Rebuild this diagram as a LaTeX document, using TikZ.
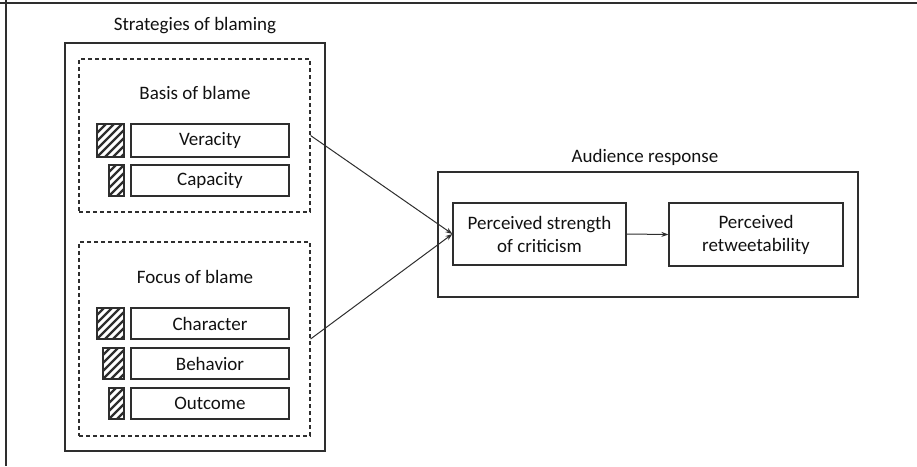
\documentclass[tikz,border=0pt]{standalone}
\usepackage{fontspec}
\setmainfont{Carlito}
\usetikzlibrary{arrows.meta}
\definecolor{ln}{HTML}{2E2E2E}
\definecolor{tx}{HTML}{111111}
\tikzset{
  lbl/.style={font=\fontsize{19}{22}\selectfont, text=tx, inner sep=0pt, align=center},
  grp/.style={draw=ln, line width=1.4pt, inner sep=0pt},
  dgrp/.style={draw=ln, line width=1.1pt, dash pattern=on 4pt off 3pt, inner sep=0pt},
  item/.style={draw=ln, line width=1.2pt, inner sep=0pt, font=\fontsize{19}{22}\selectfont, text=tx, minimum width=158pt},
  itemb/.style={item, line width=2pt},
  var/.style={draw=ln, line width=1.2pt, inner sep=0pt, font=\fontsize{19}{23}\selectfont, text=tx, align=center},
  hatch/.style={draw=ln, line width=1.6pt, inner sep=0pt, minimum height=#1, path picture={
      \foreach \i in {-56,-48,...,56}
        \draw[ln, line width=2.2pt] ([xshift=\i pt]path picture bounding box.south west) -- ++(50pt,50pt);
  }},
  arr/.style={draw=ln, line width=1pt, -{Stealth[length=7pt,width=5pt]}}
}
\begin{document}
\begin{tikzpicture}[x=1pt,y=-1pt]
\useasboundingbox (0,0) rectangle (917,466);
% page frame (top and left edges)
\draw[ln, line width=1.5pt] (0,3) -- (917,3);
\draw[ln, line width=1.5pt] (6,0) -- (6,466);

% Strategies of blaming
\node[grp, minimum width=260pt, minimum height=408pt] (strat) at (195,247) {};
\node[lbl] (strattitle) at (195,26) {Strategies of blaming};

\node[dgrp, minimum width=231pt, minimum height=153pt] (basis) at (194.5,135.5) {};
\node[lbl] (basistitle) at (195,93) {Basis of blame};
\node[itemb, minimum height=33pt] (veracity) at (210,140.5) {Veracity};
\node[hatch=33pt, minimum width=27pt] (hver) at (110.5,140.5) {};
\node[item, minimum height=31pt] (capacity) at (210,180.5) {Capacity};
\node[hatch=31pt, minimum width=15pt] (hcap) at (116.5,180.5) {};

\node[dgrp, minimum width=231pt, minimum height=194pt] (focus) at (194.5,339) {};
\node[lbl] (focustitle) at (195,277) {Focus of blame};
\node[itemb, minimum height=31pt] (character) at (210,323.5) {Character};
\node[hatch=31pt, minimum width=27pt] (hchar) at (110.5,323.5) {};
\node[item, minimum height=31pt] (behavior) at (210,363.5) {Behavior};
\node[hatch=31pt, minimum width=21pt] (hbeh) at (113.5,363.5) {};
\node[item, minimum height=31pt] (outcome) at (210,403.5) {Outcome};
\node[hatch=31pt, minimum width=15pt] (hout) at (116.5,403.5) {};

% Audience response
\node[grp, minimum width=420pt, minimum height=125pt] (aud) at (648,234.5) {};
\node[lbl] (audtitle) at (645,157) {Audience response};
\node[var, minimum width=173pt, minimum height=62pt] (strength) at (539.5,234) {Perceived strength\\of criticism};
\node[var, minimum width=174pt, minimum height=63pt] (retweet) at (756,234.5) {Perceived\\retweetability};

% connectors
\draw[arr] (basis.east) -- (strength.west);
\draw[arr] (focus.east) -- (strength.west);
\draw[arr] (strength.east) -- (retweet.west);
\end{tikzpicture}
\end{document}
